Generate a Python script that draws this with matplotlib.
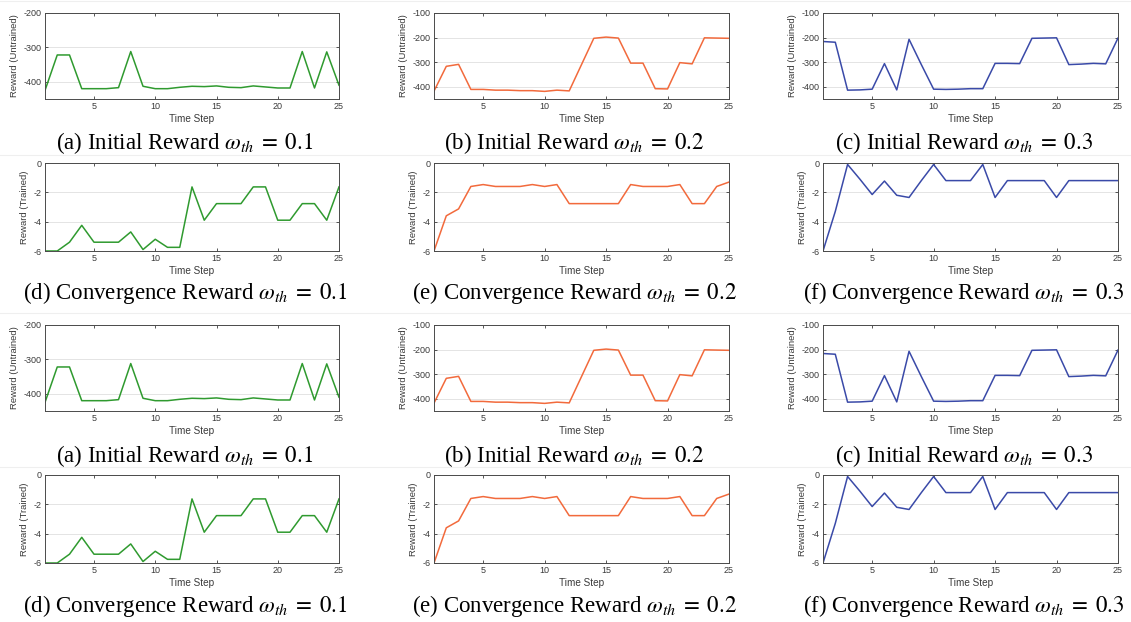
import matplotlib
matplotlib.use("Agg")
import matplotlib.pyplot as plt
from matplotlib.lines import Line2D

plt.rcParams["axes.unicode_minus"] = False
plt.rcParams["mathtext.fontset"] = "stix"

steps = list(range(1, 26))

# Untrained (initial) rewards per threshold
init_01 = [-425, -322, -322, -420, -420, -420, -417, -312, -413, -420, -420, -416, -413,
           -414, -412, -416, -417, -412, -415, -418, -418, -312, -418, -313, -410]
init_02 = [-418, -317, -309, -411, -411, -414, -414, -416, -416, -419, -414, -417, -310,
           -203, -198, -202, -304, -304, -408, -409, -302, -307, -201, -202, -203]
init_03 = [-216, -219, -414, -413, -410, -306, -413, -207, -310, -410, -411, -410, -408,
           -408, -305, -305, -306, -203, -202, -201, -310, -308, -305, -307, -202]

# Trained (convergence) rewards per threshold
conv_01 = [-6.0, -6.0, -5.4, -4.25, -5.4, -5.4, -5.4, -4.7, -5.9, -5.2, -5.75, -5.75, -1.63,
           -3.9, -2.77, -2.77, -2.77, -1.63, -1.63, -3.9, -3.9, -2.77, -2.77, -3.9, -1.63]
conv_02 = [-6.0, -3.6, -3.13, -1.6, -1.47, -1.6, -1.6, -1.6, -1.47, -1.6, -1.47, -2.77, -2.77,
           -2.77, -2.77, -2.77, -1.47, -1.6, -1.6, -1.6, -1.47, -2.77, -2.77, -1.6, -1.3]
conv_03 = [-6.0, -3.3, -0.1, -1.1, -2.15, -1.23, -2.2, -2.35, -1.2, -0.1, -1.2, -1.2, -1.2,
           -0.1, -2.35, -1.2, -1.2, -1.2, -1.2, -2.35, -1.2, -1.2, -1.2, -1.2, -1.2]

thresholds = ["0.1", "0.2", "0.3"]
letters_init = ["a", "b", "c"]
letters_conv = ["d", "e", "f"]
colors = ["#2f9a2f", "#f26a3c", "#3a4aa8"]

W, H = 1131, 622
fig = plt.figure(figsize=(W / 100, H / 100), dpi=100)
fig.patch.set_facecolor("white")

cols = [(45, 339), (434, 729), (823, 1118)]
# (top, bottom) of each plotting row in pixels
rows = [(13, 99), (163, 251), (325, 411), (475, 563)]
caption_y = [143, 293, 456, 606]


def make_axes(c, r):
    l, rr = cols[c]
    t, b = rows[r]
    return fig.add_axes([l / W, 1 - b / H, (rr - l) / W, (b - t) / H])


def style(ax, ylabel, ylim, yticks):
    ax.set_xlim(1, 25)
    ax.set_ylim(*ylim)
    ax.set_xticks([5, 10, 15, 20, 25])
    ax.set_yticks(yticks)
    ax.tick_params(direction="in", length=2.5, width=0.6, top=True, right=True,
                   labelsize=6.5, colors="#3a3a3a", pad=2.5)
    for s in ax.spines.values():
        s.set_color("#4a4a4a")
        s.set_linewidth(0.7)
    ax.grid(axis="y", color="#e4e4e4", linewidth=0.7)
    ax.set_axisbelow(True)
    ax.set_xlabel("Time Step", fontsize=7.2, color="#3a3a3a", labelpad=2)
    ax.set_ylabel(ylabel, fontsize=6.8, color="#3a3a3a", labelpad=3)
    for lab in ax.get_xticklabels() + ax.get_yticklabels():
        lab.set_family("Liberation Sans")
    ax.xaxis.label.set_family("Liberation Sans")
    ax.yaxis.label.set_family("Liberation Sans")


init_series = [init_01, init_02, init_03]
conv_series = [conv_01, conv_02, conv_03]
init_ylims = [(-450, -200), (-450, -100), (-450, -100)]
init_yticks = [[-400, -300, -200], [-400, -300, -200, -100], [-400, -300, -200, -100]]

for block in range(2):
    r_init = block * 2
    r_conv = block * 2 + 1
    for c in range(3):
        ax = make_axes(c, r_init)
        ax.plot(steps, init_series[c], color=colors[c], linewidth=1.1)
        style(ax, "Reward (Untrained)", init_ylims[c], init_yticks[c])
        cx = ((cols[c][0] + cols[c][1]) / 2 - 7) / W
        fig.text(cx, 1 - caption_y[r_init] / H,
                 f"({letters_init[c]}) Initial Reward $\\omega_{{th}}\\;=\\;{thresholds[c]}$",
                 ha="center", va="center", fontsize=16.5, family="Liberation Serif")

        ax = make_axes(c, r_conv)
        ax.plot(steps, conv_series[c], color=colors[c], linewidth=1.1)
        style(ax, "Reward (Trained)", (-6, 0), [-6, -4, -2, 0])
        fig.text(cx, 1 - caption_y[r_conv] / H,
                 f"({letters_conv[c]}) Convergence Reward $\\omega_{{th}}\\;=\\;{thresholds[c]}$",
                 ha="center", va="center", fontsize=16.5, family="Liberation Serif")

# faint separators between figure rows
for y in [1, 155, 313, 467]:
    fig.add_artist(Line2D([0, 1], [1 - y / H, 1 - y / H], color="#efefef", linewidth=0.8))

fig.savefig("out.png", dpi=100, facecolor="white")
